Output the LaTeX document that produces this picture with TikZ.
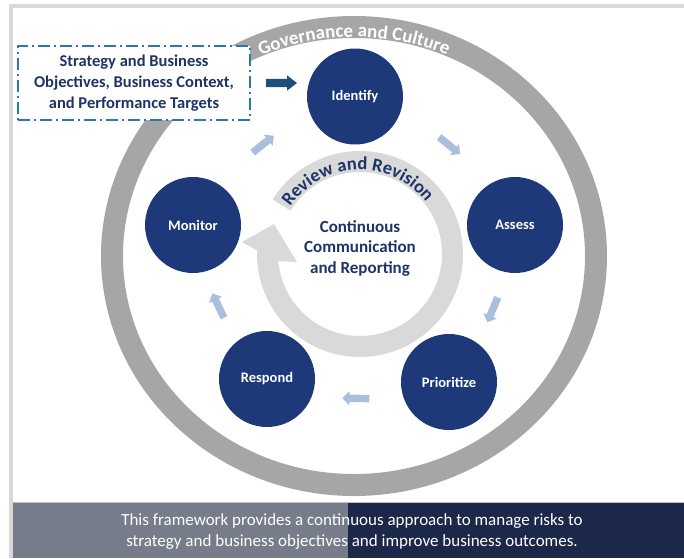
\documentclass[tikz,border=0pt]{standalone}
\usepackage{fontspec}
\setmainfont{Carlito}
\usepackage{tikz}
\usetikzlibrary{arrows.meta,calc,shapes.arrows,decorations.text}
\definecolor{stageBlue}{RGB}{30,57,122}
\definecolor{inkNavy}{RGB}{31,52,102}
\definecolor{ringGray}{RGB}{166,166,166}
\definecolor{loopGray}{RGB}{217,217,217}
\definecolor{stepBlue}{RGB}{170,190,222}
\definecolor{feedBlue}{RGB}{31,78,121}
\definecolor{boxBlue}{RGB}{46,117,182}
\definecolor{frameGray}{RGB}{217,217,217}
\definecolor{bannerSlate}{RGB}{118,124,138}
\definecolor{bannerNavy}{RGB}{27,40,74}
\tikzset{
  stage/.style={circle, fill=stageBlue, minimum size=96pt, inner sep=0pt, text=white,
    font=\fontsize{14.5}{16}\selectfont\bfseries},
  stepArrow/.style={single arrow, fill=stepBlue, minimum height=27pt,
    inner xsep=0pt, inner ysep=3.5pt, single arrow head extend=3.5pt,
    single arrow head indent=0pt, sloped, allow upside down},   % light arrows between stages
  feedArrow/.style={single arrow, fill=feedBlue, minimum height=31pt,
    inner xsep=0pt, inner ysep=4pt, single arrow head extend=3.5pt, single arrow tip angle=75},
  goalBox/.style={draw=boxBlue, line width=1.6pt, dash pattern=on 12pt off 4pt on 2pt off 4pt,
    fill=white, minimum width=232pt, minimum height=74pt, align=center, text=inkNavy,
    font=\fontsize{16.5}{21}\selectfont\bfseries},
  coreText/.style={align=center, text=inkNavy, font=\fontsize{17}{20.5}\selectfont\bfseries},
  bannerText/.style={align=center, text=white, font=\fontsize{17}{20.5}\selectfont}
}

\begin{document}
\begin{tikzpicture}[x=1pt,y=1pt]
  \useasboundingbox (0,0) rectangle (684,558);
  % frame and banner
  \fill[frameGray] (9,550) rectangle (684,554);
  \fill[frameGray] (9,0) rectangle (13,554);
  \fill[bannerSlate] (13,0) rectangle (348,55);
  \fill[bannerNavy] (348,0) rectangle (684,55);
  \draw[black!25, line width=1pt] (13,55.5) -- (684,55.5);
  \node[bannerText] (note) at (352,26.5) {This framework provides a continuous approach to manage risks to\\strategy and business objectives and improve business outcomes.};

  % outer ring
  \coordinate (ringC) at (354,302);
  \draw[ringGray, line width=22pt] (ringC) ellipse [x radius=242, y radius=229];
  \path[decorate, decoration={text along path, text align=center, text color=white,
      text={|\fontsize{19}{19}\selectfont\bfseries|Governance and Culture}}]
    ($(ringC)+(140:232 and 219)$) arc[start angle=140, end angle=40, x radius=232, y radius=219];

  % input box
  \node[goalBox] (goal) at (134,475) {Strategy and Business\\Objectives, Business Context,\\and Performance Targets};

  % review loop
  \coordinate (loopC) at (360,304);
  \fill[loopGray] ($(loopC)+(148:103)$) arc[start angle=148, end angle=-182, radius=103]
    -- (242,316) -- (274,334) -- (297,296) -- ($(loopC)+(-175:82)$)
    arc[start angle=-175, end angle=148, radius=82] -- cycle;
  \path[decorate, decoration={text along path, text align=center, text color=inkNavy,
      text={|\fontsize{18.5}{18.5}\selectfont\bfseries|Review and Revision}}]
    ($(loopC)+(172:84)$) arc[start angle=172, end angle=12, radius=84];
  \node[coreText] (core) at (360,310) {Continuous\\Communication\\and Reporting};

  % stages
  \node[stage] (I) at (355,461.5) {Identify};
  \node[stage] (A) at (515,333) {Assess};
  \node[stage] (P) at (449,176) {Prioritize};
  \node[stage] (R) at (267,179) {Respond};
  \node[stage] (M) at (193,333) {Monitor};

  \path (goal.east) -- node[feedArrow] (feed) {} (goal.east -| I.west);
  \foreach \a/\b/\bd in {I/A/15, A/P/10, P/R/14, R/M/10, M/I/14}
    \path (\a) to[bend left=\bd] node[stepArrow] {} (\b);
\end{tikzpicture}
\end{document}
